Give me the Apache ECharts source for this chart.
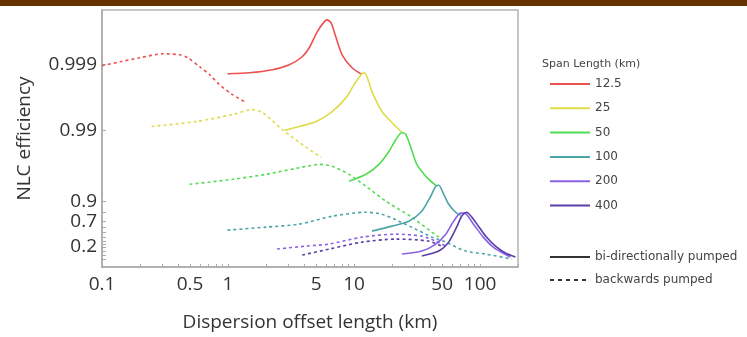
<!DOCTYPE html>
<html>
<head>
<meta charset="utf-8">
<script src="https://cdn.jsdelivr.net/npm/echarts@6/dist/echarts.min.js"></script>
<style>
  html, body { margin: 0; padding: 0; background: #fff; }
  #chart { width: 747px; height: 337px; }
</style>
</head>
<body>
<div id="chart"></div>
<script>
// Span lengths (km) shown in the legend, with one colour per span
const spanNames = ['12.5', '25', '50', '100', '200', '400'];
const spanColors = ['#ec5050', '#dedc48', '#52dc52', '#4aa4a8', '#8a62e4', '#5a3ea8'];

// Efficiency is plotted on a stretched scale (roughly -log10(1 - efficiency));
// each point is [dispersion offset length (km), scale level].

// Bi-directionally pumped
const bi125 = [[0.99, 2.866], [1.48, 2.880], [2.25, 2.925], [3.06, 2.998], [3.88, 3.117], [4.41, 3.25],
  [5.10, 3.486], [5.79, 3.634], [6.12, 3.663], [6.58, 3.619], [7.21, 3.397], [8.04, 3.146], [9.64, 2.954], [11.57, 2.851]];
const bi25 = [[2.80, 2.024], [3.67, 2.083], [5.01, 2.157], [6.70, 2.304], [8.65, 2.511], [10.0, 2.703],
  [11.36, 2.851], [12.0, 2.880], [12.67, 2.821], [13.88, 2.600], [16.65, 2.304], [19.61, 2.157], [23.96, 1.994]];
const bi50 = [[9.13, 1.270], [12.44, 1.374], [15.76, 1.521], [18.91, 1.713], [21.5, 1.891], [24.0, 1.994],
  [25.76, 1.965], [28.22, 1.773], [31.5, 1.521], [37.8, 1.329], [44.5, 1.211]];
const bi100 = [[13.88, 0.532], [19.97, 0.606], [27.22, 0.679], [34.47, 0.827], [40.6, 1.049], [44.5, 1.196],
  [47.0, 1.211], [51.5, 1.078], [56.4, 0.931], [64.0, 0.812], [70.1, 0.768]];
const bi200 = [[24.0, 0.192], [34.5, 0.236], [44.5, 0.340], [53.4, 0.487], [61.7, 0.679], [70.1, 0.798],
  [75.4, 0.798], [88.6, 0.635], [106, 0.443], [127, 0.295], [152, 0.207], [174, 0.148]];
const bi400 = [[34.5, 0.162], [47.0, 0.236], [56.4, 0.369], [65.2, 0.591], [71.4, 0.753], [78.2, 0.812],
  [92.1, 0.665], [110.5, 0.458], [132.6, 0.310], [159, 0.207], [190.9, 0.148]];

// Backwards pumped
const bw125 = [[0.1, 2.984], [0.139, 3.043], [0.2, 3.102], [0.303, 3.161], [0.414, 3.146], [0.479, 3.102],
  [0.595, 2.969], [0.714, 2.851], [0.857, 2.703], [1.085, 2.555], [1.40, 2.437]];
const bw25 = [[0.248, 2.083], [0.564, 2.157], [1.085, 2.260], [1.562, 2.334], [1.874, 2.290], [2.697, 2.038],
  [4.17, 1.773], [5.48, 1.625]];
const bw50 = [[0.496, 1.226], [1.085, 1.300], [2.0, 1.374], [4.17, 1.492], [5.29, 1.521], [6.70, 1.492],
  [9.13, 1.374], [12.44, 1.196], [17.9, 0.975], [22.69, 0.857], [28.74, 0.739], [41.4, 0.517], [47.0, 0.443]];
const bw100 = [[0.99, 0.547], [2.0, 0.591], [3.67, 0.635], [6.70, 0.753], [12.44, 0.812], [16.65, 0.783],
  [22.69, 0.679], [30.9, 0.561], [41.4, 0.443], [53.4, 0.369], [76.8, 0.236], [110.5, 0.192], [179, 0.118]];
const bw200 = [[2.45, 0.266], [4.17, 0.310], [6.35, 0.340], [11.57, 0.443], [21.5, 0.487], [34.5, 0.458],
  [44.5, 0.384], [53.4, 0.310]];
const bw400 = [[3.88, 0.177], [6.35, 0.266], [11.57, 0.369], [21.5, 0.414], [39.2, 0.384], [51.5, 0.295]];

// Axis ticks
const xTickLabels = [0.1, 0.5, 1, 5, 10, 50, 100];
const xMinorTicks = [0.1, 0.2, 0.3, 0.4, 0.5, 0.6, 0.7, 0.8, 0.9, 1, 2, 3, 4, 5, 6, 7, 8, 9,
  10, 20, 30, 40, 50, 60, 70, 80, 90, 100, 200];
const yTickValues = [0.30, 0.68, 0.97, 2.02, 3.0];
const yTickLabels = ['0.2', '0.7', '0.9', '0.99', '0.999'];
const yMinorTicks = [0.118, 0.177, 0.236, 0.30, 0.34, 0.384, 0.443, 0.517, 0.591, 0.68, 0.812, 0.97, 2.02, 3.0];

const biSets = [bi125, bi25, bi50, bi100, bi200, bi400];
const bwSets = [bw125, bw25, bw50, bw100, bw200, bw400];

const series = [];
spanNames.forEach((name, i) => {
  series.push({
    name, type: 'line', data: biSets[i], symbol: 'none', smooth: 0.25,
    color: spanColors[i], lineStyle: { width: 1.6, color: spanColors[i] }, z: 3
  });
});
spanNames.forEach((name, i) => {
  series.push({
    name, type: 'line', data: bwSets[i], symbol: 'none', smooth: 0.25,
    color: spanColors[i], lineStyle: { width: 1.6, type: [3, 3], color: spanColors[i] }, z: 2
  });
});
// Line-style key entries
series.push({ name: 'bi-directionally pumped', type: 'line', data: [], symbol: 'none',
  color: '#333', lineStyle: { width: 1.8, color: '#333' } });
series.push({ name: 'backwards pumped', type: 'line', data: [], symbol: 'none',
  color: '#333', lineStyle: { width: 1.6, type: [4, 4], color: '#333' } });

function nearestLabel(v, values, labels) {
  let best = 0;
  values.forEach((t, i) => { if (Math.abs(t - v) < Math.abs(values[best] - v)) best = i; });
  return labels ? labels[best] : String(values[best]);
}

const legendText = { fontFamily: 'DejaVu Sans', fontSize: 12, color: '#444' };

const chart = echarts.init(document.getElementById('chart'), null, { renderer: 'canvas' });
chart.setOption({
  animation: false,
  backgroundColor: '#fff',
  title: {
    text: 'Span Length (km)', left: 537, top: 54,
    textStyle: { fontFamily: 'DejaVu Sans', fontSize: 11, fontWeight: 'normal', color: '#444' }
  },
  graphic: [{
    type: 'rect', left: 0, top: 0, shape: { width: 747, height: 6 },
    style: { fill: '#663300' }, silent: true
  }],
  legend: [{
    data: spanNames, orient: 'vertical', left: 544, top: 73,
    itemWidth: 40, itemHeight: 14, itemGap: 12.3, selectedMode: false,
    itemStyle: { opacity: 0 }, lineStyle: { width: 2 }, textStyle: legendText
  }, {
    data: ['bi-directionally pumped', 'backwards pumped'], orient: 'vertical', left: 544, top: 246,
    itemWidth: 40, itemHeight: 14, itemGap: 11, selectedMode: false,
    itemStyle: { opacity: 0 }, textStyle: legendText
  }],
  grid: {
    left: 102, right: 229, top: 10, bottom: 69,
    show: true, borderColor: '#b4b4b4', borderWidth: 1.5, backgroundColor: 'transparent'
  },
  xAxis: {
    type: 'log', logBase: 10, min: 0.1, max: 200,
    name: 'Dispersion offset length (km)', nameLocation: 'middle', nameGap: 46,
    nameTextStyle: { fontFamily: 'Open Sans', fontSize: 19, color: '#333' },
    axisLine: { show: true, lineStyle: { color: '#aaa', width: 1.5 } },
    axisTick: { show: true, inside: true, length: 3, customValues: xMinorTicks, lineStyle: { color: '#aaa' } },
    axisLabel: {
      customValues: xTickLabels, margin: 8,
      fontFamily: 'Open Sans', fontSize: 19, color: '#333',
      formatter: v => nearestLabel(v, xTickLabels)
    },
    splitLine: { show: false }, minorTick: { show: false }
  },
  yAxis: {
    type: 'value', min: 0, max: 3.81,
    name: 'NLC efficiency', nameLocation: 'middle', nameGap: 58, nameRotate: 90,
    nameTextStyle: { fontFamily: 'Open Sans', fontSize: 19, color: '#333', padding: [0, 0, 10, 0] },
    axisLine: { show: true, lineStyle: { color: '#aaa', width: 1.5 } },
    axisTick: { show: true, inside: true, length: 4, customValues: yMinorTicks, lineStyle: { color: '#aaa' } },
    axisLabel: {
      customValues: yTickValues, margin: 5,
      fontFamily: 'Open Sans', fontSize: 19, color: '#333',
      formatter: v => nearestLabel(v, yTickValues, yTickLabels)
    },
    splitLine: { show: false }
  },
  series
});
</script>
</body>
</html>
